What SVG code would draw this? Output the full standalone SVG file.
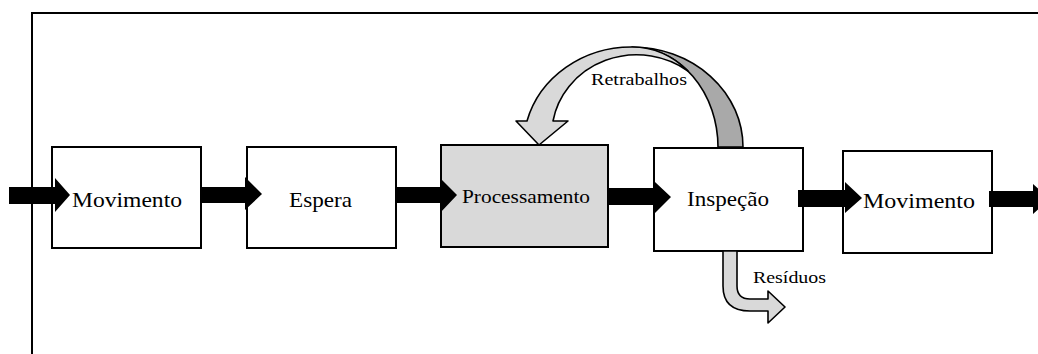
<svg xmlns="http://www.w3.org/2000/svg" width="1038" height="354" viewBox="0 0 1038 354">
<style>
.box{fill:#fff;stroke:#000;stroke-width:2}
.gray{fill:#d9d9d9}
.lbl{font-family:"Liberation Serif","Times New Roman",serif;fill:#000}
.blk{fill:#000;stroke:none}
.soft{stroke:#000;stroke-width:1.6;stroke-linejoin:round}
</style>
<rect width="1038" height="354" fill="#fff"/>
<g id="frame"><path d="M32,354 V13 H1038" fill="none" stroke="#000" stroke-width="2"/></g>
<g id="n1"><rect class="box" x="52" y="147" width="149" height="101"/><text class="lbl" x="72" y="207" font-size="22" textLength="110" lengthAdjust="spacingAndGlyphs">Movimento</text></g>
<g id="n2"><rect class="box" x="247" y="147" width="149" height="101"/><text class="lbl" x="289" y="207" font-size="22" textLength="63" lengthAdjust="spacingAndGlyphs">Espera</text></g>
<g id="n3"><rect class="box gray" x="441" y="145" width="167" height="102"/><text class="lbl" x="462" y="203" font-size="19" textLength="128" lengthAdjust="spacingAndGlyphs">Processamento</text></g>
<g id="n4"><rect class="box" x="654" y="148" width="149" height="103"/><text class="lbl" x="687" y="206" font-size="22" textLength="82" lengthAdjust="spacingAndGlyphs">Inspeção</text></g>
<g id="n5"><rect class="box" x="843" y="151" width="149" height="102"/><text class="lbl" x="863" y="208" font-size="22" textLength="112" lengthAdjust="spacingAndGlyphs">Movimento</text></g>
<g id="connectors">
<polygon class="blk" points="9,187 55,187 55,178 70,195 55,212 55,204 9,204"/>
<polygon class="blk" points="201,187 245,187 245,177 262,194 245,210 245,203 201,203"/>
<polygon class="blk" points="395,187 440,187 440,178 457,195 440,213 440,203 395,203"/>
<polygon class="blk" points="608,188 655,188 655,182 671,197 655,213 655,205 608,205"/>
<polygon class="blk" points="798,190 845,190 845,182 862,198 845,213 845,207 798,207"/>
<polygon class="blk" points="989,191 1033,191 1033,184 1050,199 1033,214 1033,207 989,207"/>
<g id="retrabalhos">
<path class="soft" fill="#a9a9a9" d="M743,147 A111,100 0 0 0 632,47 A86,100 0 0 1 718,147 Z"/>
<path class="soft" fill="#d9d9d9" d="M632,47 A108,100 0 0 0 527,121 L516,121 L539,145 L568,121 L553,121 A85,80 0 0 1 688,71 A86,100 0 0 0 632,47 Z"/>
<text class="lbl" x="591" y="85" font-size="17" textLength="96" lengthAdjust="spacingAndGlyphs">Retrabalhos</text>
</g>
<g id="residuos">
<path class="soft" fill="#d9d9d9" d="M723,251 V286 Q723,311 750,311 H768 V323 L785,307 L768,291 V299 H750 Q737,299 737,286 V251 Z"/>
<text class="lbl" x="753" y="283" font-size="16" textLength="73" lengthAdjust="spacingAndGlyphs">Resíduos</text>
</g>
</g>
</svg>
